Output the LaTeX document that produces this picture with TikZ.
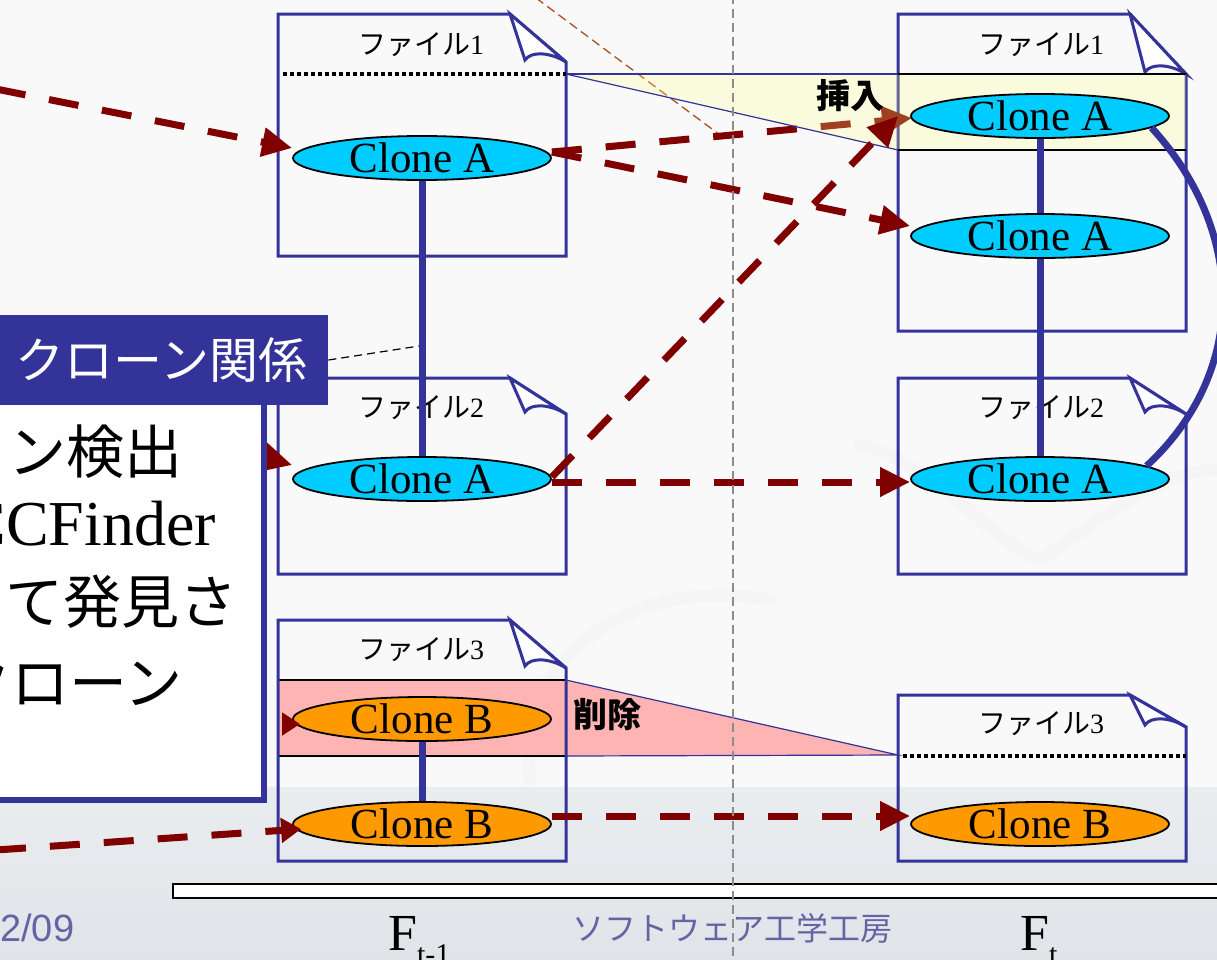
\documentclass[tikz,border=0pt]{standalone}
\usepackage{fontspec}
\setmainfont{Liberation Serif}
\newfontfamily\jp{Noto Sans CJK JP}
\newfontfamily\sansf{Liberation Sans}
\usetikzlibrary{shapes.geometric,arrows.meta}
\definecolor{docblue}{RGB}{51,51,153}
\definecolor{arrred}{RGB}{128,0,0}
\definecolor{clcyan}{RGB}{0,204,255}
\definecolor{clorange}{RGB}{255,153,0}
\definecolor{pinkband}{RGB}{255,180,180}
\definecolor{yelband}{RGB}{255,255,140}
\definecolor{footgray}{RGB}{100,100,165}
\definecolor{bgtop}{RGB}{249,249,249}
\definecolor{bgbotA}{RGB}{234,237,240}
\definecolor{bgbotB}{RGB}{224,228,232}
\definecolor{brownline}{RGB}{170,80,30}
\newcommand\fsz[1]{\fontsize{#1}{#1}\selectfont}
\newcommand\docpage[5]{%
  \draw[doc] (#1,#2) -- ({#3-56},#2) -- (#3,{#2+#5}) -- (#3,#4) -- (#1,#4) -- cycle;
  \filldraw[doc, fill=white] ({#3-56},#2) -- ({#3-41},{#2+#5-2}) .. controls ({#3-35},{#2+#5-11}) and ({#3-16},{#2+#5-10}) .. (#3,{#2+#5}) -- cycle;
}
\begin{document}
\begin{tikzpicture}[x=1pt,y=-1pt,
  clone/.style={ellipse, draw=black, line width=1.8pt, minimum width=258pt, minimum height=44pt, inner sep=0pt, font=\fsz{43}},
  cloneA/.style={clone, fill=clcyan},
  cloneB/.style={clone, fill=clorange},
  rel/.style={docblue, line width=7pt},
  doc/.style={docblue, line width=3pt, line join=miter},
  evo/.style={arrred, line width=7pt, dash pattern=on 30pt off 24pt, -{Triangle[length=30pt,width=28pt]}},
  evosmall/.style={arrred, line width=7pt, dash pattern=on 30pt off 24pt, -{Triangle[length=20pt,width=24pt]}},
  ftitle/.style={inner sep=0pt, font=\jp\fsz{28}},
  opname/.style={inner sep=0pt, font=\jp\bfseries\fsz{34}},
  bgarc/.style={black!4, line width=12pt, line cap=round},
  dotline/.style={black, line width=3.5pt, dash pattern=on 3.5pt off 3.5pt},
  bandline/.style={black, line width=1.2pt},
  thinblue/.style={docblue, line width=1.2pt},
]
\useasboundingbox (0,0) rectangle (1217,959);
% background
\fill[bgtop] (0,0) rectangle (1217,959);
\fill[top color=bgbotA, bottom color=bgbotB] (0,787) rectangle (1217,959);
\draw[bgarc] (530,780) .. controls (515,650) and (640,575) .. (770,600);
\draw[bgarc] (860,445) .. controls (930,460) and (990,540) .. (1040,560);
\draw[bgarc] (1040,560) .. controls (1100,520) and (1160,470) .. (1217,470);
% brown dashed guide
\coordinate (br1) at (536,-2);
\coordinate (br2) at (720,135);
\draw[brownline, line width=1.3pt, dash pattern=on 9pt off 5pt] (br1) -- (br2);

% pink deletion region
\fill[pinkband] (278,680) -- (566,680) -- (898,755) -- (566,756) -- (278,756) -- cycle;
\draw[bandline] (278,680) -- (566,680);
\draw[bandline] (278,756) -- (566,756);
\draw[thinblue] (566,680) -- (898,755) -- (566,756);

% file pages
\docpage{278}{14}{566}{256}{48}
\docpage{278}{378}{566}{574}{36}
\docpage{278}{620}{566}{861}{48}
\docpage{898}{14}{1186}{331}{60}
\docpage{898}{378}{1186}{574}{36}
\docpage{898}{695}{1186}{861}{32}

\draw[dotline] (283,74) -- (566,74);
\draw[dotline] (903,756) -- (1186,756);

% file titles
\node[ftitle] (t1) at (421,45) {ファイル{\rmfamily 1}};
\node[ftitle] (t2) at (421,408) {ファイル{\rmfamily 2}};
\node[ftitle] (t3) at (421,650) {ファイル{\rmfamily 3}};
\node[ftitle] (u1) at (1041,45) {ファイル{\rmfamily 1}};
\node[ftitle] (u2) at (1041,408) {ファイル{\rmfamily 2}};
\node[ftitle] (u3) at (1041,724) {ファイル{\rmfamily 3}};

% clones
\node[cloneA] (cA1) at (422,158) {Clone A};
\node[cloneA] (cA2) at (422,479) {Clone A};
\node[cloneB] (cB1) at (422,719) {Clone B};
\node[cloneB] (cB2) at (422,824) {Clone B};
\node[cloneA] (cA2r) at (1040,236) {Clone A};
\node[cloneA] (cA3r) at (1040,479) {Clone A};
\node[cloneB] (cBr) at (1040,824) {Clone B};

% arrow under the insertion band
\coordinate (cA1rW) at (912,118);
\draw[evo] ([yshift=6pt]cA1.east) -- (cA1rW);

% yellow insertion region (translucent)
\fill[yelband, opacity=0.25] (566,74) -- (1186,74) -- (1186,150) -- (898,150) -- cycle;
\draw[thinblue] (566,74) -- (898,74);
\draw[thinblue] (566,74) -- (898,150);
\draw[bandline] (898,74) -- (1186,74);
\draw[bandline] (898,150) -- (1186,150);
\node[cloneA] (cA1r) at (1040,116) {Clone A};

% clone relations
\draw[rel] (cA1.south) -- (cA2.north);
\draw[rel] (cB1.south) -- (cB2.north);
\draw[rel] (cA1r.south) -- (cA2r.north);
\draw[rel] (cA2r.south) -- (cA3r.north);
\draw[rel] (cA1r.-6) .. controls (1245,230) and (1250,370) .. (cA3r.7);

% evolution arrows
\coordinate (in1) at (-4,89);
\coordinate (in2) at (200,440);
\coordinate (in3) at (-4,850);
\draw[evo] (in1) -- ([yshift=10pt]cA1.west);
\draw[evo] ([yshift=6pt]cA1.east) -- ([yshift=10pt]cA2r.west);
\draw[evo] ([yshift=2pt]cA2.east) -- ([xshift=-12pt]cA1r.west);
\draw[evo] ([yshift=-3pt]cA2.east) -- ([yshift=-3pt]cA3r.west);
\draw[evo] (in2) -- ([yshift=14pt]cA2.west);
\draw[evo] ([yshift=8pt]cB2.east) -- ([yshift=8pt]cBr.west);

% explanation box
\filldraw[draw=docblue, line width=6pt, fill=white] (-10,400) rectangle (264,800);
\node[fill=docblue, minimum width=333pt, minimum height=90pt, anchor=north west, inner sep=0pt,
      text=white, font=\jp\fsz{49}] (hdr) at (-5,315) {クローン関係};
\node[anchor=east, inner sep=0pt, font=\jp\fsz{58}] (l1) at (183,452) {ン検出};
\node[anchor=base east, inner sep=0pt, font=\fsz{64}] (l2) at (216,545) {CCFinder};
\node[anchor=east, inner sep=0pt, font=\jp\fsz{58}] (l3) at (238,602) {て発見さ};
\node[anchor=east, inner sep=0pt, font=\jp\fsz{58}] (l4) at (183,682) {クローン};

% arrows from the left edge
\draw[arrred, line width=7pt, -{Triangle[length=18pt,width=22pt]}] ([xshift=-10pt,yshift=-5pt]cB1.west) -- ([xshift=8pt,yshift=-5pt]cB1.west);
\draw[evosmall] (in3) -- ([xshift=9pt,yshift=-5pt]cB2.west);

% callout from header
\coordinate (co) at (419,346);
\draw[black, line width=1.2pt, dash pattern=on 8pt off 5pt] (hdr.east |- 0,360) -- (co);

% operation labels
\node[opname] (ins) at (850,96) {挿入};
\node[opname] (del) at (607,715) {削除};

% timeline bar
\draw[black, line width=1.5pt, fill=white] (173,884) rectangle (1232,898);

% footer
\node[anchor=west, inner sep=0pt, text=footgray, font=\sansf\fsz{38}] (pg) at (0,928) {2/09};
\node[inner sep=0pt, text=footgray, font=\jp\fsz{32}] (lab) at (732,928) {ソフトウェア工学工房};
\node[anchor=base west, inner sep=0pt, font=\fsz{52}] (f1) at (388,950) {F\raisebox{-14pt}{\fsz{30}t-1}};
\node[anchor=base west, inner sep=0pt, font=\fsz{52}] (f2) at (1020,950) {F\raisebox{-14pt}{\fsz{30}t}};

% time separator
\coordinate (s1) at (733,-5);
\coordinate (s2) at (733,965);
\draw[black!45, line width=1.5pt, dash pattern=on 9pt off 5pt] (s1) -- (s2);
\end{tikzpicture}
\end{document}
